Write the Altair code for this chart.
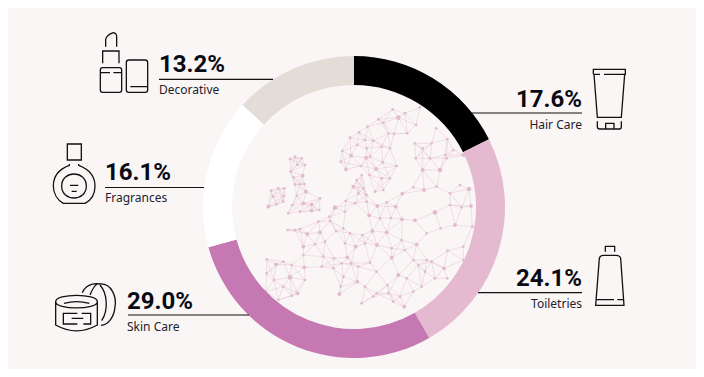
import altair as alt
import numpy as np
import pandas as pd

BG = "#faf6f5"
categories = ["Hair Care", "Toiletries", "Skin Care", "Fragrances", "Decorative"]
shares = [17.6, 24.1, 29.0, 16.1, 13.2]
ring_colors = ["#000000", "#e5b9cf", "#c678b2", "#ffffff", "#e3dcd7"]
share_labels = ["17.6%", "24.1%", "29.0%", "16.1%", "13.2%"]

# Label anchors, read in reference pixels
label_x = [582, 582, 127, 105, 159]
pct_y = [107, 286, 309, 180, 72]
name_y = [129, 308, 331, 202, 94]
label_align = ["right", "right", "left", "left", "left"]
lead_x1 = [472, 478, 128, 105, 159]
lead_x2 = [582, 582, 249, 204, 273]
lead_y = [113, 292.7, 315, 187.5, 79.3]

# Icon outlines, traced at 3x; origin is the crop corner they were read from
icon_origin_x = [460, 460, 0, 0, 0]
icon_origin_y = [50, 50, 200, 0, 0]
icon_paths = [
    "M400,73V58H496V73H432M420,73H400M402,73L412,202H484L494,73M412,214V230Q412,237 420,237H478Q484,237 484,230V214M437,237V220H462V237",
    "M436,605V589H464V605M407,766L418,625Q420,616 430,616H468Q480,616 482,625L492,766ZM407,749H462M472,749H492",
    "M167,305C167,280 292,280 292,305C292,330 167,330 167,305ZM167,305V375Q230,410 292,375V305M192,310Q230,300 268,310M232,340H190V372H232M215,355H250M245,340H272V372H250M247,278C255,258 275,248 300,252C335,250 350,290 345,320C343,350 325,375 303,376M270,285C278,265 285,255 292,252M300,255C322,280 326,330 305,362",
    "M202,432H244V480H202ZM208,492V496C175,508 160,530 160,558C160,580 172,600 190,610H255C275,600 285,580 285,558C285,530 268,508 236,496V492M185,558C185,510 259,510 259,558C259,606 185,606 185,558ZM210,556H235M215,574H230",
    "M317,140V118Q320,105 340,98Q350,100 350,110V140M308,190V153H357V190M301,210Q301,203 308,203H358Q365,203 365,210V270Q365,277 358,277H308Q301,277 301,270ZM301,218H330M340,218H365M379,188Q379,180 387,180H435Q443,180 443,188V270Q443,277 435,277H387Q379,277 379,270ZM391,260H443",
]

# Map nodes, read at 3x from the crop starting at (250, 90): x, y, size class
node_xs = [445,428,385,400,353,472,498,465,510,432,415,327,300,322,370,345,277,303,348,395,420,440,398,378,288,272,333,360,420,400,375,358,395,350,
495,518,592,558,590,585,497,518,570,540,640,545,610,
120,135,155,142,165,122,158,130,135,150,168,163,140,127,160,185,185,210,208,115,150,
63,85,103,102,68,55,80,100,
320,310,340,350,335,325,
255,287,240,205,210,172,150,113,135,258,238,285,315,350,357,382,410,437,457,490,522,555,456,423,495,390,367,410,337,300,280,160,225,195,160,220,285,317,381,345,292,275,252,163,120,78,50,100,125,72,50,100,143,165,250,215,47,125,85,303,325,322,345,370,380,268,272,280,335,360,425,380,445,412,470,425,455,500,465,530,545,582,490,515,490,415,430,463,450,505,525,593,640,667,663,657,615,572,530,635,600,630,560,600,640,592,555]
node_ys = [83,58,88,98,110,130,105,70,52,132,130,127,143,165,152,150,183,197,203,170,175,228,217,237,238,215,228,200,265,300,305,255,265,175,
160,175,147,115,205,195,205,240,240,205,195,160,180,
207,200,205,225,225,245,257,262,283,283,305,282,318,345,340,343,362,325,360,370,365,
302,295,295,318,320,350,343,335,
270,290,295,315,255,310,
353,333,393,395,427,432,417,420,420,423,380,365,340,335,376,348,337,350,311,292,300,367,388,384,391,385,423,427,435,430,415,470,455,463,495,500,460,470,465,460,502,520,505,532,562,523,508,515,525,570,550,590,610,570,535,530,605,618,630,520,530,575,590,620,610,612,590,560,640,518,503,545,555,585,565,475,450,463,480,510,515,535,510,590,605,610,635,650,620,525,545,482,470,410,348,297,405,415,430,352,345,285,290,310,510,565,565]
# How many nodes, in the order above, fall on each land mass
region_counts = [34, 13, 21, 8, 6]
node_large = {(445,83):2,(570,240):2,(255,353):2,(555,367):2,(120,562):2,(657,297):2,
 (303,197):1,(348,203):1,(378,237):1,(288,238):1,(518,240):1,(640,195):1,(158,257):1,(168,305):1,(160,340):1,(185,343):1,(185,362):1,(55,350):1,
 (310,290):1,(210,427):1,(172,432):1,(357,376):1,(382,348):1,(437,350):1,(457,311):1,(522,300):1,(456,388):1,(495,391):1,(367,423):1,(410,427):1,
 (160,470):1,(317,470):1,(381,465):1,(292,502):1,(163,532):1,(78,523):1,(143,610):1,(322,575):1,(268,612):1,(425,503):1,(445,555):1,(500,463):1,(582,535):1,(463,650):1,(663,348):1,(615,405):1}

zx = np.array(node_xs, float)
zy = np.array(node_ys, float)
nodes = pd.DataFrame({
    "x": 250 + zx / 3,
    "y": 90 + zy / 3,
    "cls": [node_large.get((a, b), 0) for a, b in zip(node_xs, node_ys)],
})
# 0 Nordic, 1 Baltic/east, 2 Britain, 3 Ireland, 4 Denmark, 5 mainland
region = np.concatenate([np.repeat(np.arange(5), region_counts),
                         np.full(len(zx) - sum(region_counts), 5)])
joined = {(1, 5), (4, 5)}

# Links: each node joins its nearest neighbours on the same land mass
seen = set()
for i in range(len(zx)):
    ok = np.array([region[i] == r or (min(region[i], r), max(region[i], r)) in joined for r in region])
    d = np.hypot(zx - zx[i], zy - zy[i])
    d[~ok] = 1e9
    for j in np.argsort(d)[1:6]:
        if d[j] < 66:
            seen.add((min(i, int(j)), max(i, int(j))))
pairs = sorted(seen)
links = pd.DataFrame({
    "x": [nodes.x[a] for a, b in pairs],
    "y": [nodes.y[a] for a, b in pairs],
    "x2": [nodes.x[b] for a, b in pairs],
    "y2": [nodes.y[b] for a, b in pairs],
})

table = pd.DataFrame({
    "category": categories, "share": shares, "order": range(5), "pct": share_labels,
    "lx": label_x, "py": pct_y, "ny": name_y, "align": label_align,
    "x1": lead_x1, "x2": lead_x2, "ly": lead_y,
})

X = alt.Scale(domain=[8, 696])
Y = alt.Scale(domain=[369, 8])
NOAX = None

link_layer = alt.Chart(links).mark_rule(color="#e3c6d5", strokeWidth=0.6, opacity=0.85).encode(
    x=alt.X("x:Q", scale=X, axis=NOAX), y=alt.Y("y:Q", scale=Y, axis=NOAX), x2="x2:Q", y2="y2:Q")

node_layer = alt.Chart(nodes).mark_circle(color="#e2bacf", opacity=1).encode(
    x=alt.X("x:Q", scale=X, axis=NOAX), y=alt.Y("y:Q", scale=Y, axis=NOAX),
    size=alt.Size("cls:O", scale=alt.Scale(domain=[0, 1, 2], range=[7, 22, 42]), legend=None))

ring = alt.Chart(table).mark_arc(radius=151, radius2=122).encode(
    theta=alt.Theta("share:Q", stack=True),
    order=alt.Order("order:Q"),
    color=alt.Color("category:N", scale=alt.Scale(domain=categories, range=ring_colors), legend=None),
    x=alt.value(346), y=alt.value(199))

lead = alt.Chart(table).mark_rule(color="#111111", strokeWidth=1.2).encode(
    x=alt.X("x1:Q", scale=X, axis=NOAX), x2="x2:Q", y=alt.Y("ly:Q", scale=Y, axis=NOAX))

text_layers = []
for a in ["left", "right"]:
    sub = table[table["align"] == a]
    text_layers.append(alt.Chart(sub).mark_text(align=a, baseline="alphabetic", font="Roboto", fontSize=24,
        fontWeight=700, color="#0a0a14").encode(
        x=alt.X("lx:Q", scale=X, axis=NOAX), y=alt.Y("py:Q", scale=Y, axis=NOAX), text="pct:N"))
    text_layers.append(alt.Chart(sub).mark_text(align=a, baseline="alphabetic", font="Noto Sans", fontSize=12,
        color="#22222c").encode(
        x=alt.X("lx:Q", scale=X, axis=NOAX), y=alt.Y("ny:Q", scale=Y, axis=NOAX), text="category:N"))

icon_layers = []
for path, ox, oy in zip(icon_paths, icon_origin_x, icon_origin_y):
    icon_layers.append(alt.Chart(pd.DataFrame({"x": [ox], "y": [oy]})).mark_point(
        shape=path, size=4 / 9, filled=False, stroke="#111111", strokeWidth=1.3, opacity=1, fillOpacity=0,
        clip=False).encode(
        x=alt.X("x:Q", scale=X, axis=NOAX), y=alt.Y("y:Q", scale=Y, axis=NOAX)))

chart = alt.layer(link_layer, node_layer, ring, lead, *text_layers, *icon_layers).properties(
    width=688, height=361, background=BG, padding=0,
    autosize=alt.AutoSizeParams(type="none", contains="padding"),
).configure_view(stroke=None)

chart.save("out.html", embed_options={"renderer": "svg", "actions": False})
